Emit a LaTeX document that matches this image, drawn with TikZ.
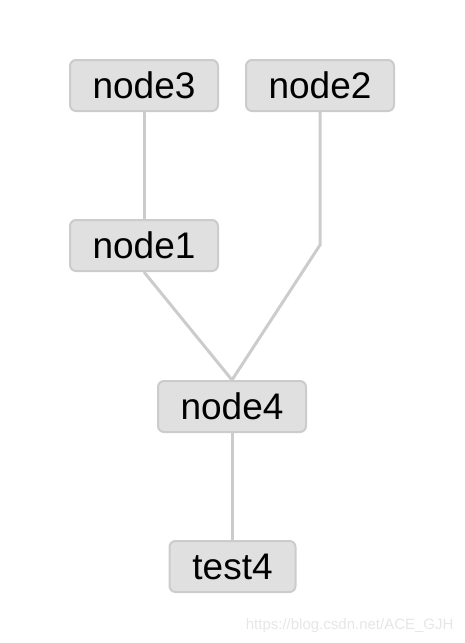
\documentclass[tikz,border=0pt]{standalone}
\usepackage{fontspec}
\setmainfont{Liberation Sans}
\usetikzlibrary{positioning}
\definecolor{boxfill}{HTML}{E0E0E0}
\definecolor{boxline}{HTML}{CCCCCC}
\definecolor{markgray}{HTML}{E6E6E6}
\begin{document}
\begin{tikzpicture}[
    x=1pt, y=-1pt,
    every node/.style={font=\fontsize{37}{42}\selectfont, align=center},
    treenode/.style={rectangle, draw=boxline, fill=boxfill, rounded corners=6pt, line width=2pt, minimum width=148pt, minimum height=51pt, inner sep=0pt},
    link/.style={draw=boxline, line width=3pt}
]
\useasboundingbox (0,0) rectangle (464,643);

% Tree nodes
\node (n3) [treenode] at (144,85.5) {node3};
\node (n2) [treenode] at (320,85.5) {node2};
\node (n1) [treenode] at (144,245.5) {node1};
\node (n4) [treenode] at (232,406.5) {node4};
\node (t4) [treenode, minimum width=126pt] at (232.5,566.5) {test4};
\coordinate (bend) at (320,245);

% Links
\draw [link] (n3.south) -- (n1.north);
\draw [link] (n2.south) -- (bend) -- (n4.north);
\draw [link] (n1.south) -- (n4.north);
\draw [link] (n4.south) -- (n4.south |- t4.north);

% Watermark
\node (mark) [anchor=base east, font=\fontsize{15}{17}\selectfont, text=markgray] at (457,629) {https://blog.csdn.net/ACE\_GJH};

\end{tikzpicture}
\end{document}
